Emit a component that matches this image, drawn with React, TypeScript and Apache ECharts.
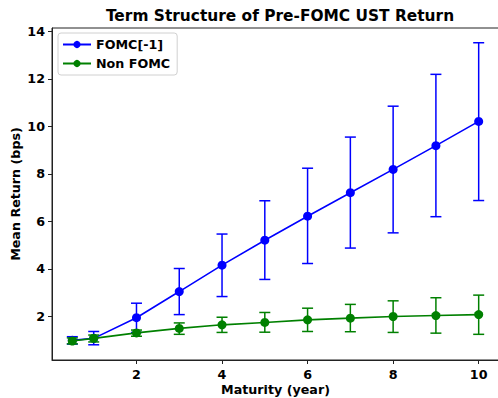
import React, { useEffect, useRef } from "react";
import * as echarts from "echarts";

const maturities = [0.5, 1, 2, 3, 4, 5, 6, 7, 8, 9, 10];
const fomcMean = [1.0, 1.08, 1.95, 3.05, 4.16, 5.21, 6.22, 7.21, 8.19, 9.19, 10.21];
const fomcLow = [0.84, 0.81, 1.33, 2.08, 2.84, 3.56, 4.23, 4.88, 5.52, 6.2, 6.88];
const fomcHigh = [1.15, 1.37, 2.56, 4.02, 5.47, 6.87, 8.24, 9.55, 10.85, 12.19, 13.52];
const nonMean = [0.97, 1.08, 1.31, 1.5, 1.65, 1.75, 1.86, 1.93, 2.0, 2.04, 2.08];
const nonLow = [0.85, 0.93, 1.17, 1.25, 1.33, 1.34, 1.37, 1.36, 1.33, 1.3, 1.25];
const nonHigh = [1.1, 1.22, 1.43, 1.73, 1.97, 2.17, 2.35, 2.51, 2.66, 2.79, 2.9];
const xTicks = [2, 4, 6, 8, 10];
const yTicks = [2, 4, 6, 8, 10, 12, 14];

const FONT = "DejaVu Sans";
const BLUE = "#0000ff";
const GREEN = "#008000";

function errorSeries(name: string, low: number[], high: number[], color: string, z: number) {
  return {
    type: "custom",
    name,
    z,
    silent: true,
    data: maturities.map((m, i) => [m, low[i], high[i]]),
    encode: { x: 0, y: [1, 2] },
    renderItem: (params: any, api: any) => {
      const x = api.value(0);
      const lo = api.coord([x, api.value(1)]);
      const hi = api.coord([x, api.value(2)]);
      const cap = 5.5;
      const style = { stroke: color, lineWidth: 1.5 };
      return {
        type: "group",
        children: [
          { type: "line", shape: { x1: lo[0], y1: lo[1], x2: hi[0], y2: hi[1] }, style },
          { type: "line", shape: { x1: lo[0] - cap, y1: lo[1], x2: lo[0] + cap, y2: lo[1] }, style },
          { type: "line", shape: { x1: hi[0] - cap, y1: hi[1], x2: hi[0] + cap, y2: hi[1] }, style },
        ],
      };
    },
  };
}

export default function App() {
  const ref = useRef<HTMLDivElement>(null);
  useEffect(() => {
    if (!ref.current) return;
    const chart = echarts.init(ref.current, undefined, { renderer: "svg" });
    const axisCommon = {
      axisLine: { show: true, lineStyle: { color: "#222", width: 1 } },
      axisTick: { show: true, length: 4, inside: false, lineStyle: { color: "#222" } },
      splitLine: { show: false },
    };
    chart.setOption({
      animation: false,
      backgroundColor: "#fff",
      title: {
        text: "Term Structure of Pre-FOMC UST Return",
        left: 275,
        textAlign: "center",
        top: 3,
        textStyle: { fontFamily: FONT, fontWeight: "bold", fontSize: 15.4, color: "#000" },
      },
      grid: {
        left: 52,
        right: -1,
        top: 28,
        bottom: 38,
        outerBoundsMode: "none",
        containLabel: false,
        show: true,
        borderColor: "#222",
        borderWidth: 1,
        backgroundColor: "transparent",
      },
      legend: {
        orient: "vertical",
        left: 58,
        top: 33,
        padding: [5, 7, 5, 4],
        itemGap: 6,
        itemWidth: 28,
        itemHeight: 9,
        borderColor: "#d0d0d0",
        borderWidth: 1,
        borderRadius: 3,
        backgroundColor: "#fff",
        data: ["FOMC[-1]", "Non FOMC"],
        textStyle: { fontFamily: FONT, fontWeight: "bold", fontSize: 12.7, color: "#000" },
      },
      xAxis: {
        type: "value",
        min: 0.025,
        max: 10.475,
        name: "Maturity (year)",
        nameLocation: "middle",
        nameGap: 23,
        nameMoveOverlap: false,
        nameTextStyle: { fontFamily: FONT, fontWeight: "bold", fontSize: 12.7, color: "#000" },
        ...axisCommon,
        axisTick: { ...axisCommon.axisTick, customValues: xTicks },
        axisLabel: {
          customValues: xTicks,
          margin: 8,
          fontFamily: FONT,
          fontWeight: "bold",
          fontSize: 12.7,
          color: "#000",
        },
      },
      yAxis: {
        type: "value",
        min: 0.17,
        max: 14.14,
        name: "Mean Return (bps)",
        nameLocation: "middle",
        nameGap: 30,
        nameMoveOverlap: false,
        nameTextStyle: { fontFamily: FONT, fontWeight: "bold", fontSize: 12.7, color: "#000" },
        ...axisCommon,
        axisTick: { ...axisCommon.axisTick, customValues: yTicks },
        axisLabel: {
          customValues: yTicks,
          margin: 7,
          fontFamily: FONT,
          fontWeight: "bold",
          fontSize: 12.7,
          color: "#000",
        },
      },
      series: [
        {
          type: "line",
          name: "FOMC[-1]",
          z: 2,
          data: maturities.map((m, i) => [m, fomcMean[i]]),
          symbol: "circle",
          symbolSize: 9,
          showSymbol: true,
          color: BLUE,
          lineStyle: { color: BLUE, width: 1.6 },
          itemStyle: { color: BLUE },
        },
        errorSeries("fomcErr", fomcLow, fomcHigh, BLUE, 3),
        {
          type: "line",
          name: "Non FOMC",
          z: 4,
          data: maturities.map((m, i) => [m, nonMean[i]]),
          symbol: "circle",
          symbolSize: 9,
          showSymbol: true,
          color: GREEN,
          lineStyle: { color: GREEN, width: 1.6 },
          itemStyle: { color: GREEN },
        },
        errorSeries("nonErr", nonLow, nonHigh, GREEN, 5),
      ],
    });
    return () => chart.dispose();
  }, []);
  return (
    <div
      ref={ref}
      style={{ position: "fixed", left: 0, top: 0, width: 498, height: 398, background: "#fff" }}
    />
  );
}
